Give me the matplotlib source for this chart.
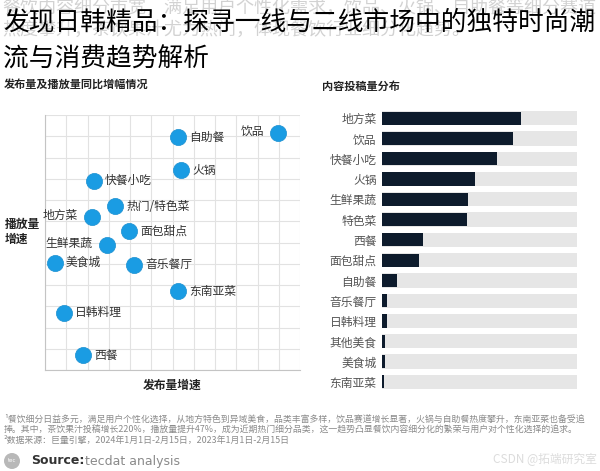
import matplotlib
matplotlib.use('Agg')
import matplotlib.pyplot as plt
from matplotlib.patches import Ellipse

plt.rcParams['font.family'] = ['Noto Sans CJK SC', 'DejaVu Sans']

# 散点图数据 (网格单位 0-12)
scatter_names = ['饮品', '自助餐', '火锅', '快餐小吃', '热门/特色菜', '地方菜', '面包甜点',
                 '生鲜果蔬', '美食城', '音乐餐厅', '东南亚菜', '日韩料理', '西餐']
publish_growth = [10.95, 6.25, 6.4, 2.3, 3.3, 2.2, 3.95, 2.9, 0.45, 4.2, 6.25, 0.9, 1.8]
play_growth = [11.15, 10.95, 9.4, 8.9, 7.7, 7.2, 6.55, 5.9, 5.05, 4.95, 3.7, 2.7, 0.7]
label_left = ['饮品', '地方菜', '生鲜果蔬']

# 条形图数据 (占比)
bar_names = ['地方菜', '饮品', '快餐小吃', '火锅', '生鲜果蔬', '特色菜', '西餐', '面包甜点',
             '自助餐', '音乐餐厅', '日韩料理', '其他美食', '美食城', '东南亚菜']
bar_values = [0.715, 0.672, 0.59, 0.477, 0.442, 0.436, 0.21, 0.19,
              0.077, 0.026, 0.026, 0.016, 0.016, 0.008]

W, H = 600, 471
BLUE = '#1a9ce3'
NAVY = '#0d1b2c'


def fx(px):
    return px / W


def fy(py):
    return 1 - py / H


fig = plt.figure(figsize=(6, 4.71), dpi=100)
fig.patch.set_facecolor('white')

# 背景中的浅灰色文字
fig.text(fx(2), fy(8), '餐饮内容细分市宽，满足用户个性化需求，饮品、火锅、自助餐等细分赛道',
         fontsize=13, color='#d2d2d2', va='center', ha='left')
fig.text(fx(2), fy(30), '热度攀升，茶饮果汁尤为热门，体现餐饮行业细分化趋势。',
         fontsize=13, color='#d2d2d2', va='center', ha='left')

# 标题
fig.text(fx(3), fy(22), '发现日韩精品：探寻一线与二线市场中的独特时尚潮',
         fontsize=18.5, color='black', va='center', ha='left', fontweight='light')
fig.text(fx(3), fy(60), '流与消费趋势解析',
         fontsize=18.5, color='black', va='center', ha='left', fontweight='light')

# 小标题
fig.text(fx(4), fy(84), '发布量及播放量同比增幅情况', fontsize=8, fontweight='bold',
         color='#222222', va='center')
fig.text(fx(322), fy(86), '内容投稿量分布', fontsize=8, fontweight='bold',
         color='#222222', va='center')

# 散点图
ax1 = fig.add_axes([fx(45), fy(370), fx(300) - fx(45), fy(115) - fy(370)])
ax1.set_xlim(0, 12)
ax1.set_ylim(0, 12)
ax1.set_xticks(range(13))
ax1.set_yticks(range(13))
ax1.grid(True, color='#e2e2e2', linewidth=0.8)
ax1.tick_params(length=0, labelbottom=False, labelleft=False)
for s in ['top', 'right']:
    ax1.spines[s].set_visible(False)
for s in ['left', 'bottom']:
    ax1.spines[s].set_color('#c4c4c4')
ax1.scatter(publish_growth, play_growth, s=135, color=BLUE, zorder=3,
            edgecolors='#1a8fd0', linewidths=0.5, clip_on=False)
for name, x, y in zip(scatter_names, publish_growth, play_growth):
    if name in label_left:
        ax1.annotate(name, (x, y), xytext=(-10, 1), textcoords='offset points',
                     ha='right', va='center', fontsize=8.5, color='#333333')
    else:
        ax1.annotate(name, (x, y), xytext=(8, 0), textcoords='offset points',
                     ha='left', va='center', fontsize=8.5, color='#333333')

fig.text(fx(5), fy(232), '播放量\n增速', fontsize=8.5, fontweight='bold',
         color='#222222', va='center', ha='left', linespacing=1.2)
fig.text(fx(172), fy(385), '发布量增速', fontsize=8.5, fontweight='bold',
         color='#222222', va='center', ha='center')

# 条形图
ax2 = fig.add_axes([fx(382), fy(392), fx(577) - fx(382), fy(108) - fy(392)])
ypos = list(range(len(bar_names)))
ax2.barh(ypos, [1] * len(bar_names), height=0.7, color='#e6e6e6')
ax2.barh(ypos, bar_values, height=0.65, color=NAVY)
ax2.set_xlim(0, 1)
ax2.set_ylim(len(bar_names) - 0.5, -0.5)
ax2.set_yticks(ypos)
ax2.set_yticklabels(bar_names, fontsize=8.5, color='#555555')
ax2.tick_params(length=0, pad=4, labelbottom=False)
for s in ax2.spines.values():
    s.set_visible(False)

# 脚注
fig.text(fx(4), fy(419), '¹餐饮细分日益多元，满足用户个性化选择，从地方特色到异域美食，品类丰富多样，饮品赛道增长显著，火锅与自助餐热度攀升，东南亚菜也备受追',
         fontsize=6.4, color='#8a8a8a', va='center')
fig.text(fx(4), fy(429), '捧。其中，茶饮果汁投稿增长220%，播放量提升47%，成为近期热门细分品类，这一趋势凸显餐饮内容细分化的繁荣与用户对个性化选择的追求。',
         fontsize=6.4, color='#8a8a8a', va='center')
fig.text(fx(4), fy(440), '²数据来源：巨量引擎，2024年1月1日-2月15日，2023年1月1日-2月15日',
         fontsize=6.4, color='#8a8a8a', va='center')

# 来源
fig.patches.append(Ellipse((fx(12), fy(461)), fx(16), 16 / H, transform=fig.transFigure,
                           facecolor='#b8b8b8', edgecolor='none'))
fig.text(fx(12), fy(461), 'tec', fontsize=4, color='white', va='center', ha='center',
         family='DejaVu Sans')
fig.text(fx(31), fy(461), 'Source:', fontsize=9, fontweight='bold',
         color='#333333', va='center', family='DejaVu Sans')
fig.text(fx(85), fy(461), 'tecdat analysis', fontsize=9, color='#8a8a8a',
         va='center', family='DejaVu Sans')
fig.text(fx(597), fy(459), 'CSDN @拓端研究室', fontsize=8.5, color='#dcdcdc',
         va='center', ha='right')

fig.savefig('out.png', dpi=100, facecolor='white')
